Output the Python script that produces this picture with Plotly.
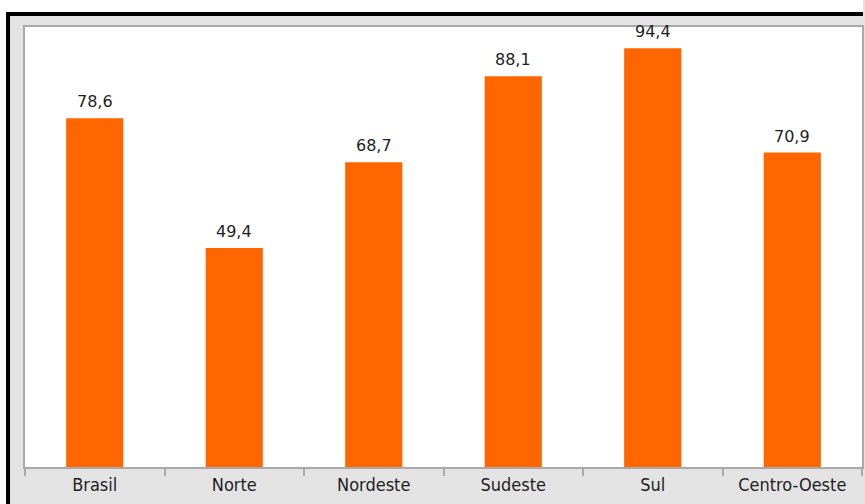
import plotly.graph_objects as go

categories = ["Brasil", "Norte", "Nordeste", "Sudeste", "Sul", "Centro-Oeste"]
values = [78.6, 49.4, 68.7, 88.1, 94.4, 70.9]
value_labels = [f"{v:.1f}".replace(".", ",") for v in values]

W, H = 865, 504
ML, MR, MT, MB = 25, 1, 27, 37
PW, PH = W - ML - MR, H - MT - MB

def px_x(px):
    return (px - ML) / PW

def px_y(py):
    return (H - MB - py) / PH

AXIS_GRAY = "#A9A9A9"
LABEL_FONT = "DejaVu Sans Condensed, Liberation Sans Narrow, DejaVu Sans, sans-serif"
VALUE_FONT = "DejaVu Sans, sans-serif"

fig = go.Figure()
fig.add_trace(go.Bar(
    x=categories,
    y=values,
    marker=dict(color="#FF6600", line=dict(width=0)),
    width=0.41,
    hoverinfo="skip",
))

annotations = []
for c, v, t in zip(categories, values, value_labels):
    annotations.append(dict(
        x=c, y=v, xref="x", yref="y",
        text=t, showarrow=False,
        yanchor="bottom", yshift=5,
        font=dict(family=VALUE_FONT, size=16, color="#1E1E1E"),
    ))

shapes = [
    dict(type="rect", xref="paper", yref="paper", x0=px_x(0), x1=px_x(W), y0=px_y(0), y1=px_y(12),
         fillcolor="white", line=dict(width=0), layer="above"),
    dict(type="rect", xref="paper", yref="paper", x0=px_x(0), x1=px_x(6), y0=px_y(0), y1=px_y(H),
         fillcolor="white", line=dict(width=0), layer="above"),
    dict(type="rect", xref="paper", yref="paper", x0=px_x(6), x1=px_x(W), y0=px_y(12), y1=px_y(16),
         fillcolor="black", line=dict(width=0), layer="above"),
    dict(type="rect", xref="paper", yref="paper", x0=px_x(6), x1=px_x(10), y0=px_y(12), y1=px_y(H),
         fillcolor="black", line=dict(width=0), layer="above"),
]

fig.update_layout(
    width=W, height=H,
    margin=dict(l=ML, r=MR, t=MT, b=MB, pad=0),
    paper_bgcolor="#E3E3E3",
    plot_bgcolor="white",
    showlegend=False,
    annotations=annotations,
    shapes=shapes,
    xaxis=dict(
        type="category",
        range=[-0.5, 5.5],
        showline=True, linecolor=AXIS_GRAY, linewidth=2, mirror=True,
        ticks="outside", tickson="boundaries", ticklen=7, tickwidth=2, tickcolor=AXIS_GRAY,
        showgrid=False, zeroline=False,
        tickfont=dict(family=LABEL_FONT, size=18, color="#1E1E1E"),
        fixedrange=True,
    ),
    yaxis=dict(
        range=[0, 99.2],
        showline=True, linecolor=AXIS_GRAY, linewidth=2, mirror=True,
        showticklabels=False, ticks="", showgrid=False, zeroline=False,
        fixedrange=True,
    ),
)

fig.write_html("out.html", config={"displayModeBar": False})
